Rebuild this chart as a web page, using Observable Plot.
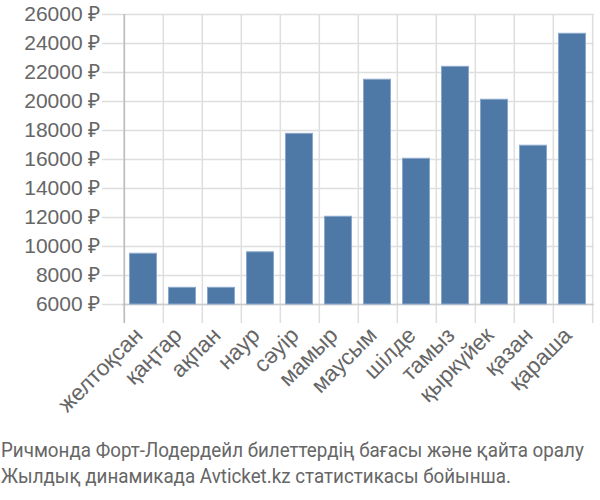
<!DOCTYPE html>
<html>
<head>
<meta charset="utf-8">
<script src="https://cdn.jsdelivr.net/npm/d3@7"></script>
<script src="https://cdn.jsdelivr.net/npm/@observablehq/plot@0.6"></script>
<style>
  body { margin: 0; background: #fff; }
  #chart svg { display: block; }
  .caption { font-family: Roboto, sans-serif; font-size: 21px; color: #666; line-height: 26px; white-space: nowrap; transform-origin: 0 0; transform: scaleX(0.895); margin-left: 1px; margin-top: 5px; }
</style>
</head>
<body>
<div id="chart"></div>
<div class="caption" id="cap">
  <div>Ричмонда Форт-Лодердейл билеттердің бағасы және қайта оралу</div>
  <div>Жылдық динамикада Avticket.kz статистикасы бойынша.</div>
</div>
<script>
const months = ["желтоқсан","қаңтар","ақпан","наур","сәуір","мамыр","маусым","шілде","тамыз","қыркүйек","қазан","қараша"];
const prices = [9500, 7150, 7150, 9600, 17770, 12050, 21500, 16050, 22390, 20120, 16950, 24670];
const yTicks = [6000, 8000, 10000, 12000, 14000, 16000, 18000, 20000, 22000, 24000, 26000];

const data = months.map((m, i) => ({month: m, price: prices[i]}));
const W = 600, ML = 122, MR = 6;
const step = (W - ML - MR) / months.length;

const chart = Plot.plot({
  width: W,
  height: 432,
  marginLeft: ML,
  marginRight: MR,
  marginTop: 14,
  marginBottom: 128,
  style: {fontFamily: "'Liberation Sans', Arial, sans-serif", color: "#666", background: "#fff"},
  x: {type: "band", domain: months, padding: 0},
  y: {domain: [6000, 26000]},
  marks: [
    Plot.ruleY(yTicks, {stroke: "#dedede", strokeWidth: 1.5, insetLeft: -20}),
    Plot.ruleX(months, {x: d => d, dx: -step / 2, stroke: "#dedede", strokeWidth: 1.5, insetBottom: -19}),
    Plot.ruleX([months[months.length - 1]], {x: d => d, dx: step / 2, stroke: "#dedede", strokeWidth: 1.5, insetBottom: -19}),
    Plot.ruleY([6000], {stroke: "#cccccc", strokeWidth: 1.5}),
    Plot.ruleX([months[0]], {x: d => d, dx: -step / 2, stroke: "#bbbbbb", strokeWidth: 1.5, insetBottom: -19}),
    Plot.barY(data, {x: "month", y1: 6000, y2: "price", fill: "#4e79a7", stroke: "#8aa8cc", strokeWidth: 1, insetLeft: 5.5, insetRight: 6.5}),
    Plot.axisY(yTicks, {tickSize: 0, tickPadding: 22, tickFormat: d => d + " ₽", fontSize: 21, fill: "#666", label: null}),
    Plot.axisX({tickSize: 0, tickRotate: -45, tickPadding: 27, dx: -5, fontSize: 22.5, fill: "#666", label: null})
  ]
});
document.getElementById("chart").appendChild(chart);
</script>
</body>
</html>
